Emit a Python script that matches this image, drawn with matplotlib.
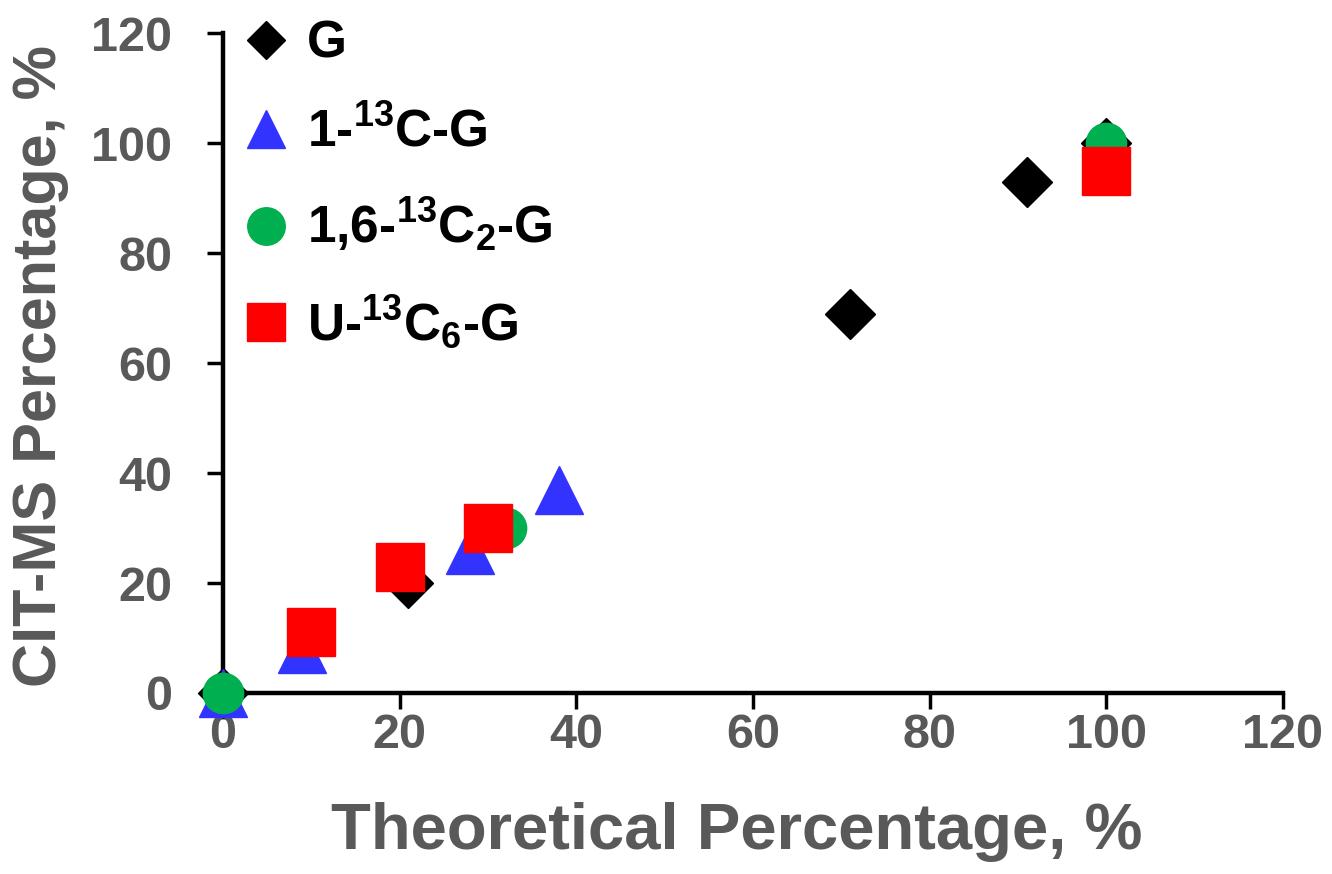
import matplotlib
matplotlib.use("Agg")
import matplotlib.pyplot as plt
from matplotlib.lines import Line2D

# Fonts: Arial-like bold everywhere, mathtext too (for the isotope labels)
plt.rcParams['font.family'] = ['Liberation Sans', 'DejaVu Sans']
plt.rcParams['font.weight'] = 'bold'
plt.rcParams['mathtext.fontset'] = 'custom'
plt.rcParams['mathtext.rm'] = 'Liberation Sans:bold'
plt.rcParams['mathtext.it'] = 'Liberation Sans:bold'
plt.rcParams['mathtext.bf'] = 'Liberation Sans:bold'
plt.rcParams['mathtext.default'] = 'rm'

# Data (theoretical %, CIT-MS %)
g_x = [0, 21, 71, 91, 100]
g_y = [0, 20, 69, 93, 100]
c1_x = [0, 9, 28, 38]
c1_y = [0, 8, 26, 37]
c16_x = [0, 32, 100]
c16_y = [0, 30, 100]
u_x = [10, 20, 30, 100]
u_y = [11, 23, 30, 95]

labels = ['G', '1-$^{13}$C-G', '1,6-$^{13}$C$_{2}$-G', 'U-$^{13}$C$_{6}$-G']
ticks = [0, 20, 40, 60, 80, 100, 120]

gray = '#595959'
blue = '#3333FF'
green = '#00B050'
red = '#FF0000'

fig = plt.figure(figsize=(13.32, 8.74), dpi=100)
ax = fig.add_axes([0.1674, 0.2071, 0.7958, 0.7551])

# draw order: G, 1-13C, 1,6-13C2, U-13C6 (red on top)
ax.plot(g_x, g_y, ls='none', marker='D', ms=25, color='black', mec='black', mew=1, clip_on=False, zorder=3)
ax.plot(c1_x, c1_y, ls='none', marker='^', ms=35, color=blue, mec=blue, mew=1, clip_on=False, zorder=4)
ax.plot(c16_x, c16_y, ls='none', marker='o', ms=29, color=green, mec=green, mew=1, clip_on=False, zorder=5)
ax.plot(u_x, u_y, ls='none', marker='s', ms=35, color=red, mec=red, mew=1, clip_on=False, zorder=6)

ax.set_xlim(0, 120)
ax.set_ylim(0, 120)
ax.set_xticks(ticks)
ax.set_yticks(ticks)
for s in ['top', 'right']:
    ax.spines[s].set_visible(False)
for s in ['left', 'bottom']:
    ax.spines[s].set_linewidth(3.2)
    ax.spines[s].set_capstyle('projecting')
ax.tick_params(axis='both', direction='out', length=11.5, width=2.5, color='black',
               labelsize=35, labelcolor=gray)
ax.tick_params(axis='x', pad=3)
ax.tick_params(axis='y', pad=25)

ax.set_xlabel('Theoretical Percentage, %', fontsize=47, fontweight='bold', color=gray, va='center')
ax.xaxis.set_label_coords(0.485, -0.2106)
ax.set_ylabel('CIT-MS Percentage, %', fontsize=44, fontweight='bold', color=gray, va='center')
ax.yaxis.set_label_coords(-0.1726, 0.495)

# legend (proxy handles, markers smaller than in the plot)
handles = [
    Line2D([], [], ls='none', marker='D', ms=19, color='black'),
    Line2D([], [], ls='none', marker='^', ms=27, color=blue),
    Line2D([], [], ls='none', marker='o', ms=27, color=green),
    Line2D([], [], ls='none', marker='s', ms=27, color=red),
]
ax.legend(handles, labels, loc='upper left', bbox_to_anchor=(245 / 1332, 1 - 20 / 874),
          bbox_transform=fig.transFigure, frameon=False, fontsize=37,
          handlelength=0.82, handletextpad=0.38, labelspacing=0.76, borderpad=0, borderaxespad=0)

fig.savefig('out.png', dpi=100)
